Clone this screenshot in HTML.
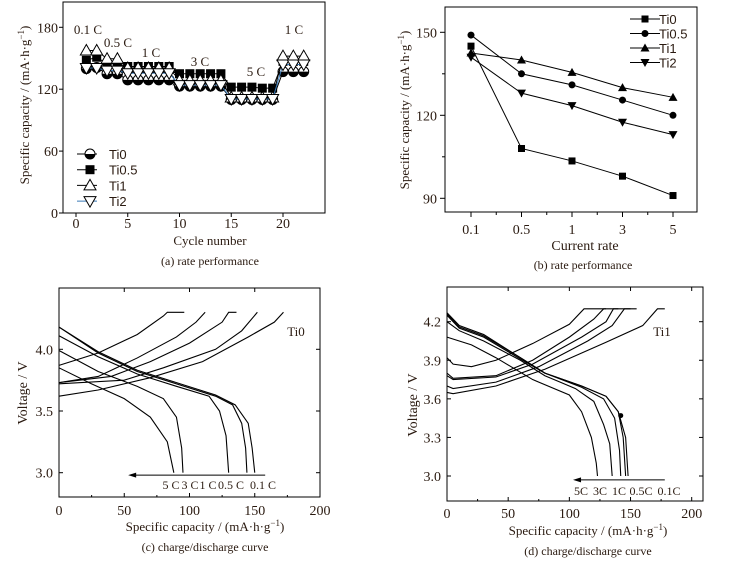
<!DOCTYPE html>
<html><head><meta charset="utf-8"><style>
html,body{margin:0;padding:0;background:#fff;}
svg{display:block;font-family:"Liberation Serif",serif;}
</style></head><body>
<svg id="fig" width="731" height="561" viewBox="0 0 731 561"></svg>
<script>
// ---- Panel (a) data ----
const aCycles=[1,2,3,4,5,6,7,8,9,10,11,12,13,14,15,16,17,18,19,20,21,22];
const aTi0=[140,141,135,135,129,129,129,129,129,123,123,123,123,123,110,110,110,110,110,137,137,137];
const aTi05=[148,151,144.5,144.5,142,142,142,142,142,135,135,135,135,135,122,122,122,121,121,147,147,147];
const aTi1=[157.5,157.5,149.5,149.5,140.5,140.5,140.5,140.5,140.5,128.5,128.5,128.5,128.5,128.5,112,112,112,112,112,152,152,152];
const aTi2=[140.5,140.5,138,138,135.5,135.5,135.5,135.5,135.5,124,124,124,124,124,110.5,110.5,110.5,110.5,110.5,144,144,144];
const aXTicks=[0,5,10,15,20];
const aYTicks=[0,60,120,180];
// ---- Panel (b) data ----
const bRates=["0.1","0.5","1","3","5"];
const bTi0=[145,108,103.5,98,91];
const bTi05=[149,135,131,125.5,120];
const bTi1=[142.5,140,135.5,130,126.5];
const bTi2=[141,128,123.5,117.5,113];
const bYTicks=[90,120,150];
// ---- Panel (c) data (capacity, voltage) ----
const cCharge5C=[[0,3.87],[30,3.97],[60,4.12],[80,4.27],[83,4.3],[96,4.3]];
const cCharge3C=[[0,3.73],[30,3.78],[60,3.93],[90,4.1],[105,4.22],[112,4.3]];
const cCharge1C=[[0,3.73],[40,3.78],[70,3.9],[100,4.05],[125,4.22],[130,4.3],[136,4.3]];
const cCharge05C=[[0,3.72],[50,3.75],[80,3.85],[120,4.0],[140,4.15],[152,4.3]];
const cCharge01C=[[0,3.62],[30,3.67],[70,3.77],[110,3.9],[145,4.1],[165,4.22],[172,4.3]];
const cDis01C=[[0,4.18],[30,3.98],[60,3.83],[90,3.73],[120,3.63],[135,3.55],[145,3.4],[148,3.2],[150,3.0]];
const cDis05C=[[0,4.18],[30,3.97],[60,3.82],[90,3.72],[120,3.62],[133,3.55],[140,3.4],[143,3.2],[144,3.0]];
const cDis1C=[[0,4.11],[30,3.94],[60,3.8],[90,3.7],[115,3.62],[123,3.5],[128,3.3],[130,3.0]];
const cDis3C=[[0,3.99],[30,3.82],[60,3.7],[80,3.6],[90,3.45],[94,3.2],[95,3.0]];
const cDis5C=[[0,3.85],[25,3.72],[50,3.6],[70,3.45],[83,3.25],[88,3.0]];
const cXTicks=[0,50,100,150,200];
const cYTicks=[3.0,3.5,4.0];
// ---- Panel (d) data ----
const dCharge5C=[[0,3.92],[5,3.87],[20,3.85],[40,3.9],[70,4.03],[100,4.18],[112,4.3],[130,4.3]];
const dCharge3C=[[0,3.8],[5,3.76],[40,3.78],[70,3.9],[100,4.08],[120,4.22],[128,4.3],[140,4.3]];
const dCharge1C=[[0,3.78],[5,3.75],[40,3.77],[70,3.87],[110,4.08],[130,4.2],[136,4.3],[150,4.3]];
const dCharge05C=[[0,3.7],[5,3.68],[40,3.73],[75,3.85],[115,4.05],[135,4.17],[145,4.3],[155,4.3]];
const dCharge01C=[[0,3.65],[5,3.64],[40,3.7],[80,3.83],[130,4.04],[160,4.17],[172,4.3],[178,4.3]];
const dDis01C=[[0,4.27],[10,4.17],[30,4.1],[60,3.92],[80,3.8],[110,3.7],[130,3.62],[140,3.5],[146,3.3],[148,3.0]];
const dDis05C=[[0,4.26],[10,4.16],[30,4.09],[60,3.92],[80,3.8],[110,3.7],[130,3.62],[140,3.5],[144,3.3],[146,3.0]];
const dDis1C=[[0,4.25],[10,4.15],[30,4.08],[60,3.91],[80,3.8],[110,3.69],[128,3.6],[137,3.45],[141,3.2],[142,3.0]];
const dDis3C=[[0,4.2],[10,4.13],[30,4.05],[60,3.9],[80,3.78],[105,3.68],[120,3.58],[128,3.4],[133,3.25],[135,3.0]];
const dDis5C=[[0,4.08],[20,4.02],[40,3.92],[70,3.75],[100,3.63],[110,3.5],[118,3.3],[122,3.1],[123,3.0]];
const dXTicks=[0,50,100,150,200];
const dYTicks=[3.0,3.3,3.6,3.9,4.2];

const NS="http://www.w3.org/2000/svg";
const svg=document.getElementById('fig');
const TXT="#2a1a10";
function mk(tag,attrs,parent){const e=document.createElementNS(NS,tag);for(const k in attrs)e.setAttribute(k,attrs[k]);(parent||svg).appendChild(e);return e;}
function txt(s,x,y,size,anchor,parent,extra){const e=mk('text',Object.assign({x:x,y:y,'font-size':size,'text-anchor':anchor||'middle',fill:TXT},extra||{}),parent);e.textContent=s;return e;}
function lin(x0,x1,p0,p1){return v=>p0+(v-x0)*(p1-p0)/(x1-x0);}
function marker(type,x,y,g,s){
  s=s||4;let e;
  if(type==='circle'){e=mk('circle',{cx:x,cy:y,r:s,fill:'#000'},g);}
  else if(type==='circleHalf'){e=mk('g',{},g);mk('circle',{cx:x,cy:y,r:s+0.5,fill:'#fff',stroke:'#000','stroke-width':1},e);mk('path',{d:`M${x-s-0.5},${y} A${s+0.5},${s+0.5} 0 0 0 ${x+s+0.5},${y} Z`,fill:'#000'},e);}
  else if(type==='square'){e=mk('rect',{x:x-s,y:y-s,width:2*s,height:2*s,fill:'#000'},g);}
  else if(type==='up'){e=mk('path',{d:`M${x},${y-s-1} L${x+s+1},${y+s} L${x-s-1},${y+s} Z`,fill:'#000'},g);}
  else if(type==='down'){e=mk('path',{d:`M${x},${y+s+1} L${x+s+1},${y-s} L${x-s-1},${y-s} Z`,fill:'#000'},g);}
  else if(type==='upOpen'){e=mk('path',{d:`M${x},${y-s-1.5} L${x+s+1.5},${y+s} L${x-s-1.5},${y+s} Z`,fill:'#fff',stroke:'#000','stroke-width':1},g);}
  else if(type==='downOpen'){e=mk('path',{d:`M${x},${y+s+1.5} L${x+s+1.5},${y-s} L${x-s-1.5},${y-s} Z`,fill:'#fff',stroke:'#000','stroke-width':1},g);}
  return e;
}
function poly(pts,sx,sy,g,w,color){return mk('polyline',{points:pts.map(p=>sx(p[0])+','+sy(p[1])).join(' '),fill:'none',stroke:color||'#000','stroke-width':w||1},g);}

// ================= Panel A =================
(function(){
  const L=63,R=325,T=2,B=213;
  const sx=lin(0,20,76,283), sy=lin(0,180,213,27.3);
  const g=mk('g',{});
  
  
  const fr=mk('rect',{x:L,y:T,width:R-L,height:B-T,fill:'none',stroke:'#000','stroke-width':1},g);
  
  
  aXTicks.forEach(v=>{mk('line',{x1:sx(v),x2:sx(v),y1:B,y2:B+4,stroke:'#000'},g);const t=txt(String(v),sx(v),228,14,'middle',g);
    
    });
  aYTicks.forEach(v=>{mk('line',{x1:L-4,x2:L,y1:sy(v),y2:sy(v),stroke:'#000'},g);const t=txt(String(v),58,sy(v)+5,14,'end',g);
    
    });
  const xt=txt('Cycle number',210,245,13,'middle',g);
  
  
  const yt=txt('Specific capacity / (mA·h·g',0,0,13,'middle',g,{transform:'translate(29,105) rotate(-90)'});
  const sup=mk('tspan',{'baseline-shift':'super','font-size':9},yt);sup.textContent='−1';
  const cl=mk('tspan',{},yt);cl.textContent=')';
  
  
  const cap=txt('(a) rate performance',210,265,12,'middle',g);
  
  
  const series=[[aTi0,'circleHalf','#000'],[aTi05,'square','#000'],[aTi1,'upOpen','#000'],[aTi2,'downOpen','#3a7ab8']];
  series.forEach(([vals,m,col])=>{
    const sg=mk('g',{},g);
    
    
    poly(aCycles.map((c,i)=>[c,vals[i]]),sx,sy,sg,1,col);
    aCycles.forEach((c,i)=>{const mm=marker(m,sx(c),sy(vals[i]),sg,4.5);
      
      });
  });
  [['0.1 C',88,34],['0.5 C',118,47],['1 C',151,57],['3 C',200,66],['5 C',256,76],['1 C',294,34]].forEach(([s,x,y])=>{
    const t=txt(s,x,y,13,'middle',g);
    
    });
  const lg=mk('g',{},g);
  
  
  [['Ti0','circleHalf','#000'],['Ti0.5','square','#000'],['Ti1','upOpen','#000'],['Ti2','downOpen','#3a7ab8']].forEach(([n,m,col],i)=>{
    const y=154+i*15.7;
    const e=mk('g',{},lg);
    
    
    mk('line',{x1:77,x2:97,y1:y,y2:y,stroke:col},e);marker(m,90,y,e,4.5);txt(n,109,y+5,13,'start',e,{'font-family':'Liberation Sans, sans-serif'});
  });
})();

// ================= Panel B =================
(function(){
  const L=445,R=697,T=7,B=212;
  const sx=i=>471+i*50.5, sy=lin(90,150,198.3,32.3);
  const g=mk('g',{});
  
  
  const fr=mk('rect',{x:L,y:T,width:R-L,height:B-T,fill:'none',stroke:'#000'},g);
  
  
  bRates.forEach((r,i)=>{mk('line',{x1:sx(i),x2:sx(i),y1:B,y2:B+5,stroke:'#000'},g);if(i<4)mk('line',{x1:sx(i+0.5),x2:sx(i+0.5),y1:B,y2:B+3,stroke:'#000'},g);
    const t=txt(r,sx(i),234,14,'middle',g);
    
    });
  bYTicks.forEach(v=>{mk('line',{x1:L-5,x2:L,y1:sy(v),y2:sy(v),stroke:'#000'},g);mk('line',{x1:L-3,x2:L,y1:sy(v+15),y2:sy(v+15),stroke:'#000'},g);
    const t=txt(String(v),437,sy(v)+5,14,'end',g);
    
    });
  const xt=txt('Current rate',585,250,14,'middle',g);
  
  
  const yt=txt('Specific capacity / (mA·h·g',0,0,13,'middle',g,{transform:'translate(409,110) rotate(-90)'});
  const sup=mk('tspan',{'baseline-shift':'super','font-size':9},yt);sup.textContent='−1';
  const cl=mk('tspan',{},yt);cl.textContent=')';
  
  
  const cap=txt('(b) rate performance',583,269,12,'middle',g);
  
  
  [[bTi0,'square'],[bTi05,'circle'],[bTi1,'up'],[bTi2,'down']].forEach(([vals,m])=>{
    const sg=mk('g',{},g);
    
    
    mk('polyline',{points:vals.map((v,i)=>sx(i)+','+sy(v)).join(' '),fill:'none',stroke:'#000'},sg);
    vals.forEach((v,i)=>{const mm=marker(m,sx(i),sy(v),sg,3.5);
      
      });
  });
  const lg=mk('g',{},g);
  
  
  [['Ti0','square'],['Ti0.5','circle'],['Ti1','up'],['Ti2','down']].forEach(([n,m],i)=>{
    const y=19+i*14.5;
    const e=mk('g',{},lg);
    
    
    mk('line',{x1:630,x2:660,y1:y,y2:y,stroke:'#000'},e);marker(m,645,y,e,3.5);txt(n,659,y+5,13,'start',e,{'font-family':'Liberation Sans, sans-serif'});
  });
})();

// ========== charge/discharge helper ==========
function cdPanel(o){
  const g=mk('g',{});
  
  
  const fr=mk('rect',{x:o.L,y:o.T,width:o.R-o.L,height:o.B-o.T,fill:'none',stroke:'#000'},g);
  
  
  const sx=o.sx, sy=o.sy;
  o.xt.forEach(v=>{mk('line',{x1:sx(v),x2:sx(v),y1:o.B,y2:o.B-4,stroke:'#000'},g);mk('line',{x1:sx(v),x2:sx(v),y1:o.T,y2:o.T+4,stroke:'#000'},g);
    if(v<200){mk('line',{x1:sx(v+25),x2:sx(v+25),y1:o.B,y2:o.B-2,stroke:'#000'},g);}
    const t=txt(String(v),sx(v),o.xtY,14,'middle',g);
    
    });
  o.yt.forEach(v=>{mk('line',{x1:o.L,x2:o.L+4,y1:sy(v),y2:sy(v),stroke:'#000'},g);mk('line',{x1:o.R,x2:o.R-4,y1:sy(v),y2:sy(v),stroke:'#000'},g);
    const t=txt(v.toFixed(1),o.ytX,sy(v)+5,14,'end',g);
    
    });
  const xt=txt('Specific capacity / (mA·h·g',o.xtitleX,o.xtitleY,13,'middle',g);
  const sup=mk('tspan',{'baseline-shift':'super','font-size':9},xt);sup.textContent='−1';
  const cl=mk('tspan',{},xt);cl.textContent=')';
  
  
  const yt=txt('Voltage / V',0,0,14,'middle',g,{transform:`translate(${o.ytitleX},${o.ytitleY}) rotate(-90)`});
  
  
  const cap=txt(o.caption,o.xtitleX,o.capY,12,'middle',g);
  
  
  o.curves.forEach(c=>{const p=poly(c,sx,sy,g,1.1);
    
    });
  const ar=mk('g',{},g);
  
  
  const ay=sy(o.arrow[2]);
  mk('line',{x1:sx(o.arrow[0]),x2:sx(o.arrow[1])+6,y1:ay,y2:ay,stroke:'#000'},ar);
  mk('path',{d:`M${sx(o.arrow[1])},${ay} l8,-2.5 l0,5 Z`,fill:'#000'},ar);
  o.labels.forEach(([s,x,y])=>{const t=txt(s,x,y,12,'middle',g);
    
    });
  const sl=txt(o.sample[0],o.sample[1],o.sample[2],13,'middle',g);
  
  
  return {g,sx,sy};
}

cdPanel({name:'panel-c-charge-discharge',p:'c',L:59,R:320,T:288,B:497,
  sx:lin(0,200,59,320),sy:lin(3.0,4.0,472.7,349.3),xt:cXTicks,yt:cYTicks,xtY:515,ytX:53,
  xtitleX:205,xtitleY:531,capY:551,ytitleX:27,ytitleY:393,caption:'(c) charge/discharge curve',
  curves:[cCharge5C,cCharge3C,cCharge1C,cCharge05C,cCharge01C,cDis01C,cDis05C,cDis1C,cDis3C,cDis5C],
  arrow:[158,53,2.98],
  labels:[['5 C',171,489],['3 C',190,489],['1 C',208,489],['0.5 C',231,489],['0.1 C',263,489]],
  sample:['Ti0',296,336]});

(function(){
  const r=cdPanel({name:'panel-d-charge-discharge',p:'d',L:447,R:703,T:287,B:501,
    sx:lin(0,200,447,691.7),sy:lin(3.0,4.2,476,321.7),xt:dXTicks,yt:dYTicks,xtY:518,ytX:441,
    xtitleX:588,xtitleY:535,capY:555,ytitleX:417,ytitleY:405,caption:'(d) charge/discharge curve',
    curves:[dCharge5C,dCharge3C,dCharge1C,dCharge05C,dCharge01C,dDis01C,dDis05C,dDis1C,dDis3C,dDis5C],
    arrow:[178,103,2.97],
    labels:[['5C',581,495],['3C',600,495],['1C',619,495],['0.5C',641,495],['0.1C',669,495]],
    sample:['Ti1',662,336]});
  const dot=mk('circle',{cx:r.sx(142),cy:r.sy(3.47),r:2.5,fill:'#000'},r.g);
  
  
})();
</script>
</body></html>
